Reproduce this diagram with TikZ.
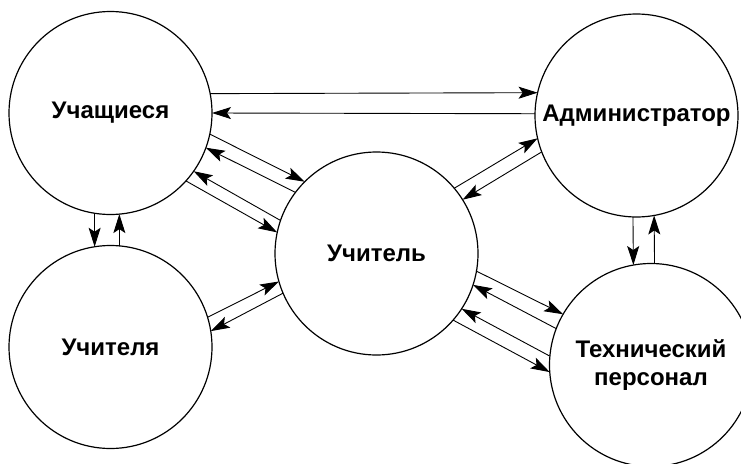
\documentclass[tikz,border=0pt]{standalone}
\usepackage{fontspec}
\setmainfont{Liberation Sans}
\usetikzlibrary{arrows.meta}
\begin{document}
\begin{tikzpicture}[x=1pt,y=-1pt,
  entity/.style={draw,circle,line width=1.2pt,minimum size=203pt,inner sep=0pt,outer sep=0pt,
    font=\fontsize{24}{28}\selectfont\bfseries,align=center},
  flow/.style={line width=0.9pt,-{Stealth[length=19pt,width=12pt,inset=4pt]}}]
\useasboundingbox (0,0) rectangle (741,463);
\clip (0,0) rectangle (741,463);
\node[entity] (S) at (110.5,113) {Учащиеся};
\node[entity] (A) at (636.5,115.5) {Администратор};
\node[entity] (T) at (376.5,253.5) {Учитель};
\node[entity] (U) at (110.5,347) {Учителя};
\node[entity] (P) at (651,365) {Технический\\персонал};
% Students - Administrator
\draw[flow] (S.11.2) -- (A.167.3);
\draw[flow] (A.179) -- (S.-0.4);
% Students - Teachers
\draw[flow] (S.-99.8) -- (U.99.8);
\draw[flow] (U.85.6) -- (S.-85.6);
% Administrator - Technical staff
\draw[flow] (A.-92.4) -- (P.100.7);
\draw[flow] (P.88.3) -- (A.-80.1);
% Students - Teacher
\draw[flow] (S.-12.7) -- (T.135.6);
\draw[flow] (T.143.5) -- (S.-20.3);
\draw[flow] (T.161.2) -- (S.-35.2);
\draw[flow] (S.-42.2) -- (T.168.7);
% Teacher - Administrator
\draw[flow] (T.40.4) -- (A.193.6);
\draw[flow] (A.201.8) -- (T.32.7);
% Teachers - Teacher
\draw[flow] (U.17.4) -- (T.196.3);
\draw[flow] (T.203.9) -- (U.9.8);
% Teacher - Technical staff
\draw[flow] (T.-10.9) -- (P.150.4);
\draw[flow] (P.159.8) -- (T.-18.9);
\draw[flow] (P.175.3) -- (T.-33.7);
\draw[flow] (T.-41.1) -- (P.184.4);
\end{tikzpicture}
\end{document}
